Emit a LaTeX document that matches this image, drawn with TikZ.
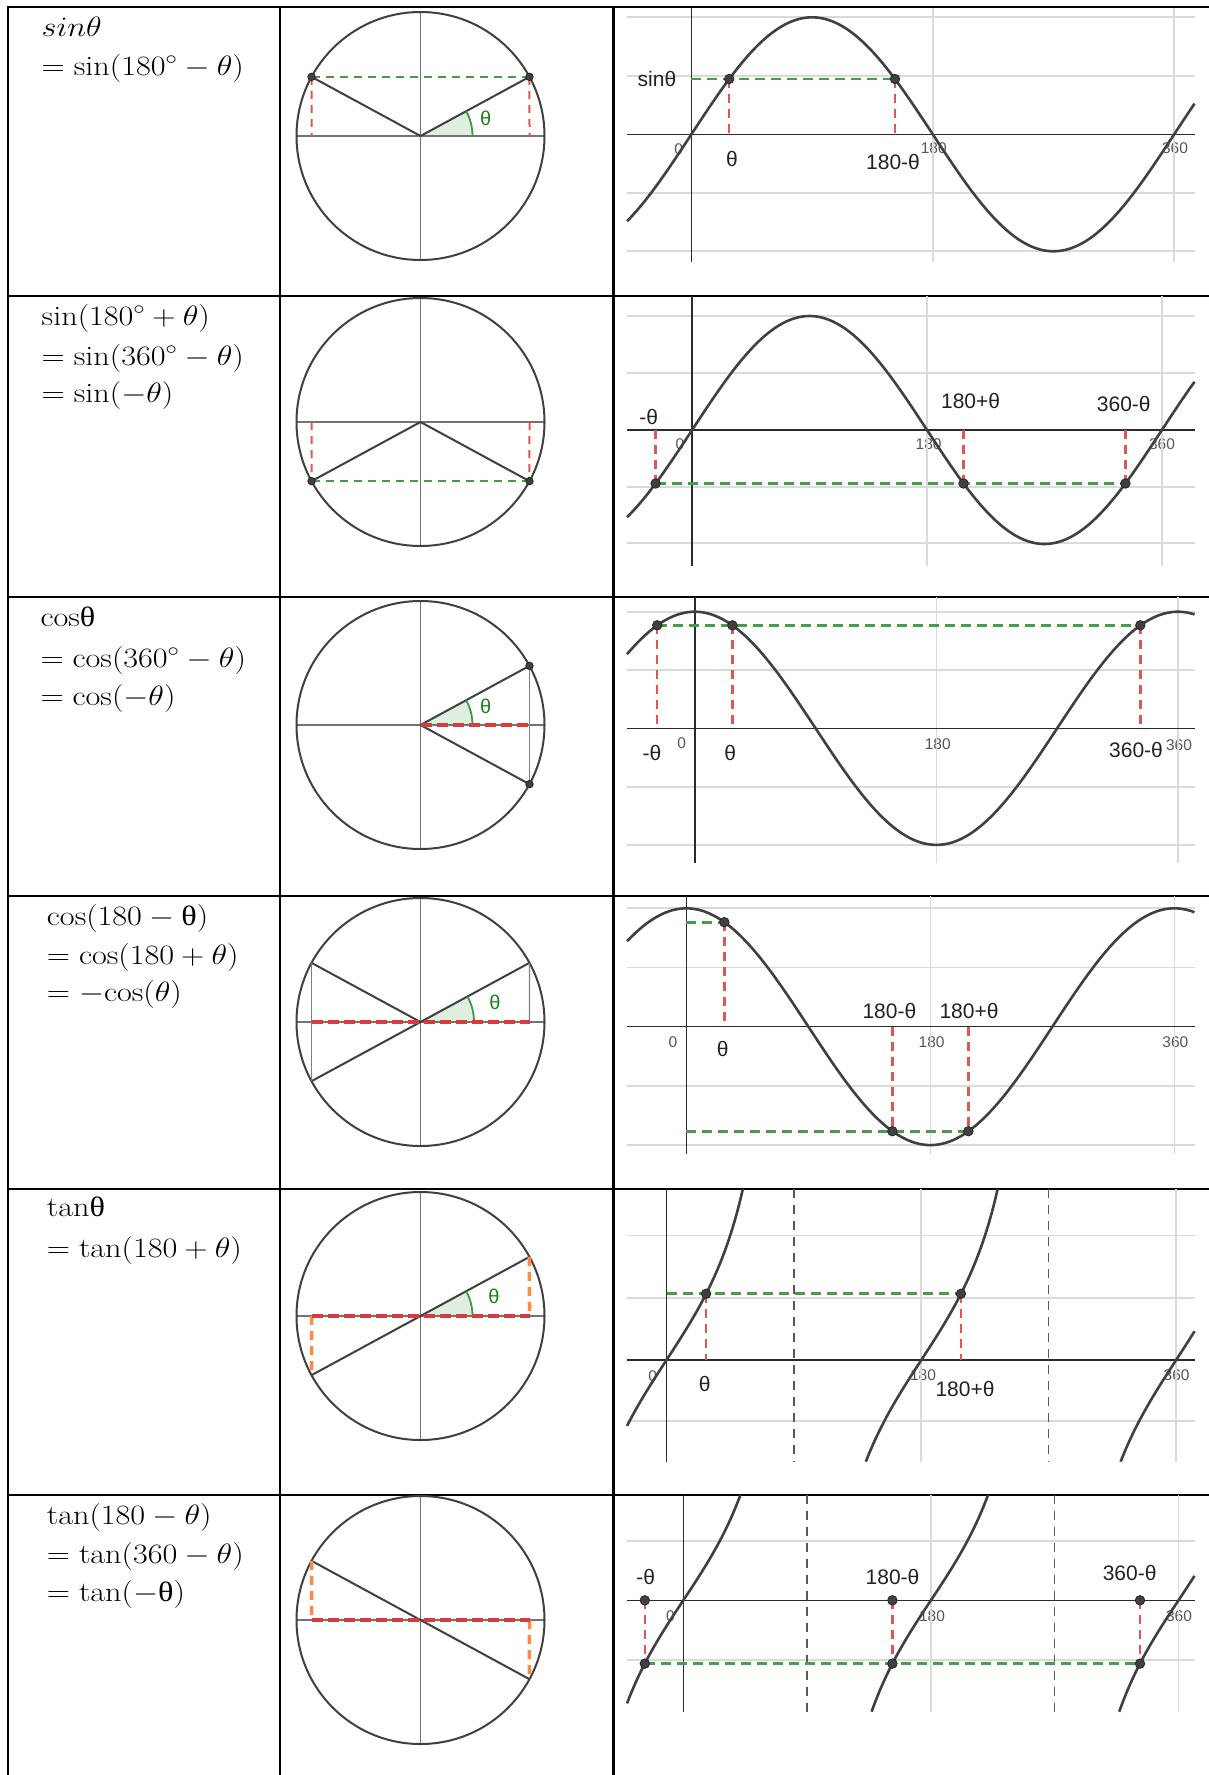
\RequirePackage{fix-cm}
\documentclass[tikz,border=0pt]{standalone}
\usepackage{amsmath}
\usepackage{graphicx}
\usepackage{fontspec}
\setsansfont{Liberation Sans}
\newfontfamily\grk{Liberation Serif}
\newcommand\eqbox[1]{\scalebox{1.15}[1]{#1}}
\definecolor{curvec}{HTML}{404040}
\definecolor{gridc}{HTML}{DADADA}
\definecolor{axisc}{HTML}{2B2B2B}
\definecolor{ggreen}{HTML}{4A9A4A}
\definecolor{gred}{HTML}{E25555}
\definecolor{tred}{HTML}{D93B3B}
\definecolor{gorange}{HTML}{FF8A45}
\definecolor{wedgefill}{HTML}{DFEFDF}
\definecolor{wedgeline}{HTML}{3C9A3C}
\definecolor{thetac}{HTML}{1F7F1F}
\definecolor{labc}{HTML}{222222}
\definecolor{numc}{HTML}{555555}
\tikzset{
 tbl/.style={line width=2.2pt, black, line cap=rect},
 eq/.style={anchor=base west, inner sep=0pt, font=\fontsize{28}{38}\selectfont},
 gridl/.style={gridc, line width=1.8pt},
 axisl/.style={axisc, line width=1.4pt},
 curvel/.style={curvec, line width=2.6pt},
 gdash/.style={ggreen, line width=2.8pt, dash pattern=on 10pt off 6pt},
 rdash/.style={gred, line width=2.5pt, dash pattern=on 9pt off 6pt},
 asym/.style={black!65, line width=1.5pt, dash pattern=on 9pt off 7pt},
 gdot/.style={circle, fill=curvec, draw=black!85, line width=0.8pt, inner sep=0pt, minimum size=9.5pt},
 glab/.style={inner sep=0pt, font=\sffamily\fontsize{21}{21}\selectfont, text=labc},
 gnum/.style={inner sep=0pt, font=\sffamily\fontsize{15.5}{15.5}\selectfont, text=numc},
 circ/.style={curvec, line width=2pt},
 caxis/.style={black!55, line width=1.3pt},
 rad/.style={black!75, line width=2pt},
 cvert/.style={black!50, line width=1.3pt},
 cgdash/.style={ggreen, line width=2pt, dash pattern=on 8pt off 6pt},
 crdash/.style={gred, line width=2pt, dash pattern=on 8pt off 6pt},
 trdash/.style={tred, line width=4pt, dash pattern=on 11pt off 5pt},
 odash/.style={gorange, line width=3.5pt, dash pattern=on 9pt off 6pt},
 wedge/.style={fill=wedgefill, draw=none},
 warc/.style={wedgeline, line width=1.8pt},
 thlab/.style={inner sep=0pt, font=\sffamily\fontsize{20}{20}\selectfont, text=thetac},
}
\begin{document}
\begin{tikzpicture}[x=1pt,y=-1pt]
\useasboundingbox (0,0) rectangle (1209,1775);
\fill[white] (0,0) rectangle (1209,1775);

% ---------------- table ----------------
\foreach \yy in {7.3,296,597,896,1189,1495} \draw[tbl] (8,\yy) -- (1208,\yy);
\foreach \xx in {8,280,613.5} \draw[tbl] (\xx,7.3) -- (\xx,1775);

% ---------------- formulas ----------------
\node[eq] (t1a) at (41.5,36) {\eqbox{$sin\theta$}};
\node[eq] (t1b) at (41.5,75) {\eqbox{$= \sin(180^\circ - \theta)$}};
\node[eq] (t2a) at (41.5,325) {\eqbox{$\sin(180^\circ + \theta)$}};
\node[eq] (t2b) at (41.5,365) {\eqbox{$= \sin(360^\circ - \theta)$}};
\node[eq] (t2c) at (41.5,402.7) {\eqbox{$= \sin(-\theta)$}};
\node[eq] (t3a) at (40.3,626) {\eqbox{cos{\grk θ}}};
\node[eq] (t3b) at (40.3,667) {\eqbox{$= \cos(360^\circ - \theta)$}};
\node[eq] (t3c) at (40.3,705) {\eqbox{$= \cos(-\theta)$}};
\node[eq] (t4a) at (46.7,925) {\eqbox{$\cos(180 - \mbox{\grk θ})$}};
\node[eq] (t4b) at (46.7,964) {\eqbox{$= \cos(180 + \theta)$}};
\node[eq] (t4c) at (46.7,1001.7) {\eqbox{$= -\mathrm{cos}(\theta)$}};
\node[eq] (t5a) at (46.7,1216.7) {\eqbox{tan{\grk θ}}};
\node[eq] (t5b) at (46.7,1257) {\eqbox{$= \tan(180 + \theta)$}};
\node[eq] (t6a) at (46.7,1524) {\eqbox{$\tan(180 - \theta)$}};
\node[eq] (t6b) at (46.7,1563) {\eqbox{$= \tan(360 - \theta)$}};
\node[eq] (t6c) at (46.7,1601.7) {\eqbox{$= \tan(-\mbox{\grk θ})$}};

% ---------------- circles ----------------
% row 1
\begin{scope}[shift={(420.5,136)}, yscale=-1]
 \fill[wedge] (0,0) -- (52,0) arc[start angle=0,end angle=28.5,radius=52] -- cycle;
 \draw[caxis] (-124,0) -- (124,0);
 \draw[caxis] (0,124) -- (0,-124);
 \draw[circ] (0,0) circle[radius=124];
 \coordinate (c1o) at (0,0);
 \coordinate (c1p) at (28.5:124);
 \coordinate (c1q) at (151.5:124);
 \coordinate (c1px) at (109,0);
 \coordinate (c1qx) at (-109,0);
 \draw[rad] (c1o) -- (c1p);
 \draw[rad] (c1o) -- (c1q);
 \draw[cgdash] (c1q) -- (c1p);
 \draw[crdash] (c1p) -- (c1px);
 \draw[crdash] (c1q) -- (c1qx);
 \draw[warc] (52,0) arc[start angle=0,end angle=28.5,radius=52];
 \node[gdot, minimum size=7.5pt] (c1dp) at (c1p) {};
 \node[gdot, minimum size=7.5pt] (c1dq) at (c1q) {};
\end{scope}
\node[thlab] (c1th) at (485.6,118.3) {θ};

% row 2
\begin{scope}[shift={(420.5,422)}, yscale=-1]
 \draw[caxis] (-124,0) -- (124,0);
 \draw[caxis] (0,124) -- (0,-124);
 \draw[circ] (0,0) circle[radius=124];
 \coordinate (c2o) at (0,0);
 \coordinate (c2p) at (331.5:124);
 \coordinate (c2q) at (208.5:124);
 \coordinate (c2px) at (109,0);
 \coordinate (c2qx) at (-109,0);
 \draw[rad] (c2o) -- (c2p);
 \draw[rad] (c2o) -- (c2q);
 \draw[cgdash] (c2q) -- (c2p);
 \draw[crdash] (c2px) -- (c2p);
 \draw[crdash] (c2qx) -- (c2q);
 \node[gdot, minimum size=7.5pt] (c2dp) at (c2p) {};
 \node[gdot, minimum size=7.5pt] (c2dq) at (c2q) {};
\end{scope}

% row 3
\begin{scope}[shift={(420.5,725)}, yscale=-1]
 \fill[wedge] (0,0) -- (52,0) arc[start angle=0,end angle=28.5,radius=52] -- cycle;
 \draw[caxis] (-124,0) -- (124,0);
 \draw[caxis] (0,124) -- (0,-124);
 \draw[circ] (0,0) circle[radius=124];
 \coordinate (c3o) at (0,0);
 \coordinate (c3p) at (28.5:124);
 \coordinate (c3q) at (-28.5:124);
 \coordinate (c3px) at (109,0);
 \draw[rad] (c3o) -- (c3p);
 \draw[rad] (c3o) -- (c3q);
 \draw[cvert] (c3p) -- (c3q);
 \draw[warc] (52,0) arc[start angle=0,end angle=28.5,radius=52];
 \draw[trdash] (c3o) -- (c3px);
 \node[gdot, minimum size=7.5pt] (c3dp) at (c3p) {};
 \node[gdot, minimum size=7.5pt] (c3dq) at (c3q) {};
\end{scope}
\node[thlab] (c3th) at (485.6,706.7) {θ};

% row 4
\begin{scope}[shift={(420.5,1022)}, yscale=-1]
 \fill[wedge] (0,0) -- (53.5,0) arc[start angle=0,end angle=28.5,radius=53.5] -- cycle;
 \draw[caxis] (-124,0) -- (124,0);
 \draw[caxis] (0,124) -- (0,-124);
 \draw[circ] (0,0) circle[radius=124];
 \coordinate (c4o) at (0,0);
 \coordinate (c4p) at (28.5:124);
 \coordinate (c4q) at (151.5:124);
 \coordinate (c4r) at (208.5:124);
 \coordinate (c4px) at (109,0);
 \coordinate (c4qx) at (-109,0);
 \draw[rad] (c4r) -- (c4p);
 \draw[rad] (c4o) -- (c4q);
 \draw[cvert] (c4q) -- (c4r);
 \draw[cvert] (c4p) -- (c4px);
 \draw[warc] (53.5,0) arc[start angle=0,end angle=28.5,radius=53.5];
 \draw[trdash] (c4qx) -- (c4px);
\end{scope}
\node[thlab] (c4th) at (495,1002) {θ};

% row 5
\begin{scope}[shift={(420.5,1316)}, yscale=-1]
 \fill[wedge] (0,0) -- (52,0) arc[start angle=0,end angle=28.5,radius=52] -- cycle;
 \draw[caxis] (-124,0) -- (124,0);
 \draw[caxis] (0,124) -- (0,-124);
 \draw[circ] (0,0) circle[radius=124];
 \coordinate (c5p) at (28.5:124);
 \coordinate (c5r) at (208.5:124);
 \coordinate (c5px) at (109,0);
 \coordinate (c5rx) at (-109,0);
 \draw[rad] (c5r) -- (c5p);
 \draw[warc] (52,0) arc[start angle=0,end angle=28.5,radius=52];
 \draw[odash] (c5p) -- (c5px);
 \draw[odash] (c5rx) -- (c5r);
 \draw[trdash] (c5rx) -- (c5px);
\end{scope}
\node[thlab] (c5th) at (494,1296) {θ};

% row 6
\begin{scope}[shift={(420.5,1620)}, yscale=-1]
 \draw[caxis] (-124,0) -- (124,0);
 \draw[caxis] (0,124) -- (0,-124);
 \draw[circ] (0,0) circle[radius=124];
 \coordinate (c6q) at (151.5:124);
 \coordinate (c6s) at (331.5:124);
 \coordinate (c6qx) at (-109,0);
 \coordinate (c6sx) at (109,0);
 \draw[rad] (c6q) -- (c6s);
 \draw[odash] (c6q) -- (c6qx);
 \draw[odash] (c6sx) -- (c6s);
 \draw[trdash] (c6qx) -- (c6sx);
\end{scope}

% ---------------- graphs ----------------
% row 1 : sin
\node[gnum] (n1a) at (678.8,149) {0};
\node[gnum] (n1b) at (933.7,148.5) {180};
\node[gnum] (n1c) at (1175,148.5) {360};
\begin{scope}[shift={(691.4,134.3)}, yscale=-1]
 \foreach \yy in {-117,-58.5,58.5,117} \draw[gridl] (-64.4,\yy) -- (503.1,\yy);
 \foreach \xx in {241.4,482.8} \draw[gridl] (\xx,126.3) -- (\xx,-127.7);
 \draw[axisl] (-64.4,0) -- (503.1,0);
 \draw[axisl] (0,126.3) -- (0,-127.7);
 \draw[curvel] plot[domain=-48:375.2,samples=150,smooth] ({\x*1.341},{117*sin(\x)});
 \coordinate (g1o) at (0,55.3);
 \coordinate (g1p) at (37.8,55.3);
 \coordinate (g1q) at (203.6,55.3);
 \coordinate (g1px) at (37.8,0);
 \coordinate (g1qx) at (203.6,0);
 \draw[gdash] (g1o) -- (g1q);
 \draw[rdash] (g1p) -- (g1px);
 \draw[rdash] (g1q) -- (g1qx);
 \node[gdot] (g1dp) at (g1p) {};
 \node[gdot] (g1dq) at (g1q) {};
\end{scope}
\node[glab] (l1a) at (657,79) {sinθ};
\node[glab] (l1b) at (732,159) {θ};
\node[glab] (l1c) at (893,161.7) {180-θ};

% row 2 : sin
\node[gnum] (n2a) at (680,444) {0};
\node[gnum] (n2b) at (928.6,444) {180};
\node[gnum] (n2c) at (1162,444) {360};
\begin{scope}[shift={(692.1,430)}, yscale=-1]
 \foreach \yy in {-113,-57,57,114} \draw[gridl] (-65.1,\yy) -- (502.4,\yy);
 \foreach \xx in {234.9,469.8} \draw[gridl] (\xx,134) -- (\xx,-136);
 \draw[axisl] (-65.1,0) -- (502.4,0);
 \draw[axisl] (0,134) -- (0,-136);
 \draw[curvel] plot[domain=-49.9:385,samples=150,smooth] ({\x*1.305},{114*sin(\x)});
 \coordinate (g2a) at (-36.5,-53.5);
 \coordinate (g2b) at (271.4,-53.5);
 \coordinate (g2c) at (433.3,-53.5);
 \coordinate (g2ax) at (-36.5,0);
 \coordinate (g2bx) at (271.4,0);
 \coordinate (g2cx) at (433.3,0);
 \draw[gdash] (g2a) -- (g2c);
 \draw[rdash] (g2ax) -- (g2a);
 \draw[rdash] (g2bx) -- (g2b);
 \draw[rdash] (g2cx) -- (g2c);
 \node[gdot] (g2da) at (g2a) {};
 \node[gdot] (g2db) at (g2b) {};
 \node[gdot] (g2dc) at (g2c) {};
\end{scope}
\node[glab] (l2a) at (648.8,416.7) {-θ};
\node[glab] (l2b) at (970.6,400.8) {180+θ};
\node[glab] (l2c) at (1123.8,404.2) {360-θ};

% row 3 : cos
\node[gnum] (n3a) at (681.8,743) {0};
\node[gnum] (n3b) at (937.7,744) {180};
\node[gnum] (n3c) at (1179,744.7) {360};
\begin{scope}[shift={(694.8,728.3)}, yscale=-1]
 \foreach \yy in {-116.6,-58.3,58.3,116.6} \draw[gridl] (-67.8,\yy) -- (499.7,\yy);
 \foreach \xx in {241.6,483.1} \draw[gridl] (\xx,131.3) -- (\xx,-134.4);
 \draw[axisl] (-67.8,0) -- (499.7,0);
 \draw[axisl] (0,131.3) -- (0,-134.4);
 \draw[curvel] plot[domain=-50.5:372.4,samples=150,smooth] ({\x*1.342},{116.6*cos(\x)});
 \coordinate (g3a) at (-37.6,103);
 \coordinate (g3b) at (37.6,103);
 \coordinate (g3c) at (445.5,103);
 \coordinate (g3ax) at (-37.6,0);
 \coordinate (g3bx) at (37.6,0);
 \coordinate (g3cx) at (445.5,0);
 \draw[gdash] (g3a) -- (g3c);
 \draw[rdash] (g3a) -- (g3ax);
 \draw[rdash] (g3b) -- (g3bx);
 \draw[rdash] (g3c) -- (g3cx);
 \node[gdot] (g3da) at (g3a) {};
 \node[gdot] (g3db) at (g3b) {};
 \node[gdot] (g3dc) at (g3c) {};
\end{scope}
\node[glab] (l3a) at (652,752.7) {-θ};
\node[glab] (l3b) at (730.3,753) {θ};
\node[glab] (l3c) at (1136,750) {360-θ};

% row 4 : cos
\node[gnum] (n4a) at (673,1041.7) {0};
\node[gnum] (n4b) at (931.6,1041.7) {180};
\node[gnum] (n4c) at (1175.3,1041.7) {360};
\begin{scope}[shift={(686.4,1026.7)}, yscale=-1]
 \foreach \yy in {-118.4,-59.2,59.2,118.4} \draw[gridl] (-59.4,\yy) -- (508.1,\yy);
 \foreach \xx in {244,488} \draw[gridl] (\xx,130.7) -- (\xx,-127.6);
 \draw[axisl] (-59.4,0) -- (508.1,0);
 \draw[axisl] (0,130.7) -- (0,-127.6);
 \draw[curvel] plot[domain=-43.8:374.8,samples=150,smooth] ({\x*1.3555},{118.4*cos(\x)});
 \coordinate (g4o) at (0,104.5);
 \coordinate (g4u) at (0,-104.5);
 \coordinate (g4a) at (37.95,104.5);
 \coordinate (g4b) at (206,-104.5);
 \coordinate (g4c) at (282,-104.5);
 \coordinate (g4ax) at (37.95,0);
 \coordinate (g4bx) at (206,0);
 \coordinate (g4cx) at (282,0);
 \draw[gdash] (g4o) -- (g4a);
 \draw[gdash] (g4u) -- (g4c);
 \draw[rdash] (g4a) -- (g4ax);
 \draw[rdash] (g4bx) -- (g4b);
 \draw[rdash] (g4cx) -- (g4c);
 \node[gdot] (g4da) at (g4a) {};
 \node[gdot] (g4db) at (g4b) {};
 \node[gdot] (g4dc) at (g4c) {};
\end{scope}
\node[glab] (l4a) at (722.7,1049) {θ};
\node[glab] (l4b) at (889.4,1010.8) {180-θ};
\node[glab] (l4c) at (969,1010.8) {180+θ};

% row 5 : tan
\node[gnum] (n5a) at (652.8,1375.8) {0};
\node[gnum] (n5b) at (923,1375) {180};
\node[gnum] (n5c) at (1176.6,1375) {360};
\begin{scope}[shift={(666.5,1360)}, yscale=-1]
 \foreach \yy in {-61,62.3,124.6} \draw[gridl] (-39.5,\yy) -- (528,\yy);
 \foreach \xx in {254.8,509.6} \draw[gridl] (\xx,171) -- (\xx,-101.7);
 \draw[axisl] (-39.5,0) -- (528,0);
 \draw[axisl] (0,171) -- (0,-101.7);
 \foreach \xx in {127.4,382.2} \draw[asym] (\xx,171) -- (\xx,-101.7);
 \draw[curvel] plot[domain=-27.9:53.9,samples=60,smooth] ({\x*1.4156},{124.6*tan(\x)});
 \draw[curvel] plot[domain=140.8:233.9,samples=60,smooth] ({\x*1.4156},{124.6*tan(\x)});
 \draw[curvel] plot[domain=320.8:373.0,samples=40,smooth] ({\x*1.4156},{124.6*tan(\x)});
 \coordinate (g5o) at (0,66.25);
 \coordinate (g5a) at (39.6,66.25);
 \coordinate (g5b) at (294.4,66.25);
 \coordinate (g5ax) at (39.6,0);
 \coordinate (g5bx) at (294.4,0);
 \draw[gdash] (g5o) -- (g5b);
 \draw[rdash] (g5a) -- (g5ax);
 \draw[rdash] (g5b) -- (g5bx);
 \node[gdot] (g5da) at (g5a) {};
 \node[gdot] (g5db) at (g5b) {};
\end{scope}
\node[glab] (l5a) at (704.7,1384) {θ};
\node[glab] (l5b) at (965,1389) {180+θ};

% row 6 : tan
\node[gnum] (n6a) at (670.4,1615.8) {0};
\node[gnum] (n6b) at (932,1615.7) {180};
\node[gnum] (n6c) at (1179,1615.7) {360};
\begin{scope}[shift={(683.3,1600.3)}, yscale=-1]
 \foreach \yy in {-59.5,59.5} \draw[gridl] (-56.3,\yy) -- (511.2,\yy);
 \foreach \xx in {247.6,495.2} \draw[gridl] (\xx,105.3) -- (\xx,-111.4);
 \draw[axisl] (-56.3,0) -- (511.2,0);
 \draw[axisl] (0,105.3) -- (0,-111.4);
 \foreach \xx in {123.8,371.4} \draw[asym] (\xx,105.3) -- (\xx,-111.4);
 \draw[curvel] plot[domain=-40.9:41.5,samples=60,smooth] ({\x*1.3756},{119*tan(\x)});
 \draw[curvel] plot[domain=136.9:221.5,samples=60,smooth] ({\x*1.3756},{119*tan(\x)});
 \draw[curvel] plot[domain=316.9:371.6,samples=40,smooth] ({\x*1.3756},{119*tan(\x)});
 \coordinate (g6a) at (-38.5,-63.3);
 \coordinate (g6b) at (209.1,-63.3);
 \coordinate (g6c) at (456.7,-63.3);
 \coordinate (g6ax) at (-38.5,0);
 \coordinate (g6bx) at (209.1,0);
 \coordinate (g6cx) at (456.7,0);
 \draw[gdash] (g6a) -- (g6c);
 \draw[rdash] (g6ax) -- (g6a);
 \draw[rdash] (g6bx) -- (g6b);
 \draw[rdash] (g6cx) -- (g6c);
 \node[gdot] (g6da) at (g6a) {};
 \node[gdot] (g6db) at (g6b) {};
 \node[gdot] (g6dc) at (g6c) {};
 \node[gdot] (g6dax) at (g6ax) {};
 \node[gdot] (g6dbx) at (g6bx) {};
 \node[gdot] (g6dcx) at (g6cx) {};
\end{scope}
\node[glab] (l6a) at (645.6,1576.7) {-θ};
\node[glab] (l6b) at (892.5,1576.7) {180-θ};
\node[glab] (l6c) at (1129.6,1572.5) {360-θ};
\end{tikzpicture}
\end{document}
